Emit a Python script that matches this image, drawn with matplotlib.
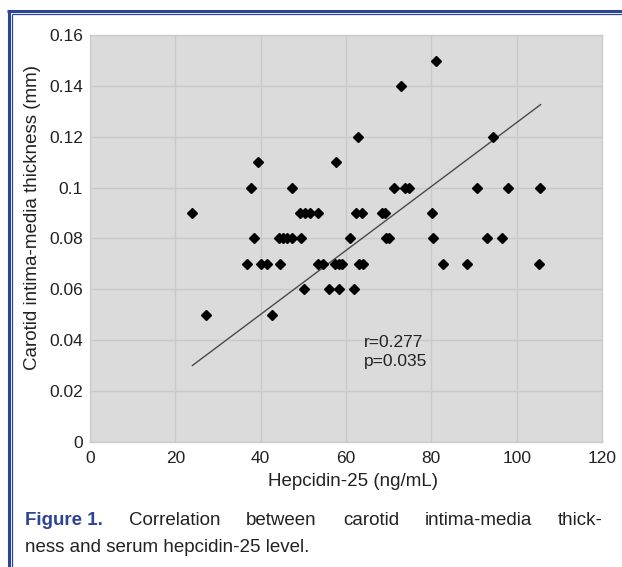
import matplotlib
matplotlib.use("Agg")
import matplotlib.pyplot as plt
from matplotlib.lines import Line2D

# --- Data ---
hepcidin = [
    81.1,
    72.9,
    62.9, 94.4,
    39.4, 57.6,
    37.7, 47.4, 71.3, 73.8, 74.8, 90.8, 98.0, 105.5,
    24.0, 49.2, 50.4, 51.6, 53.4, 62.3, 63.8, 68.4, 69.1, 80.1,
    38.5, 44.3, 45.3, 46.1, 47.4, 49.4, 60.9, 69.4, 70.1, 80.3, 93.0, 96.6,
    36.9, 40.0, 41.4, 44.5, 53.5, 54.5, 57.4, 58.4, 59.0, 63.1, 64.0, 82.8, 88.3, 105.3,
    50.2, 56.1, 58.4, 61.9,
    27.2, 42.6,
]
imt = [
    0.15,
    0.14,
    0.12, 0.12,
    0.11, 0.11,
    0.10, 0.10, 0.10, 0.10, 0.10, 0.10, 0.10, 0.10,
    0.09, 0.09, 0.09, 0.09, 0.09, 0.09, 0.09, 0.09, 0.09, 0.09,
    0.08, 0.08, 0.08, 0.08, 0.08, 0.08, 0.08, 0.08, 0.08, 0.08, 0.08, 0.08,
    0.07, 0.07, 0.07, 0.07, 0.07, 0.07, 0.07, 0.07, 0.07, 0.07, 0.07, 0.07, 0.07, 0.07,
    0.06, 0.06, 0.06, 0.06,
    0.05, 0.05,
]

# trend line as drawn in the figure
fit_x = [24.0, 105.6]
fit_y = [0.030, 0.1327]

x_ticks = [0, 20, 40, 60, 80, 100, 120]
y_ticks = [0, 0.02, 0.04, 0.06, 0.08, 0.10, 0.12, 0.14, 0.16]
y_tick_labels = ["0", "0.02", "0.04", "0.06", "0.08", "0.1", "0.12", "0.14", "0.16"]

stats_text = "r=0.277\np=0.035"
x_label = "Hepcidin-25 (ng/mL)"
y_label = "Carotid intima-media thickness (mm)"
caption_line1 = ["Figure 1.", "Correlation", "between", "carotid", "intima-media", "thick-"]
caption_line2 = "ness and serum hepcidin-25 level."

# --- Style ---
W, H = 622, 567
BLUE = "#2c4596"
plt.rcParams["font.family"] = ["Liberation Sans", "DejaVu Sans"]

fig = plt.figure(figsize=(W / 100, H / 100), dpi=100)
fig.patch.set_facecolor("white")

ax = fig.add_axes([90 / W, 1 - 441.7 / H, 512 / W, 406.4 / H])
ax.set_facecolor("#dbdbdb")
ax.set_xlim(0, 120)
ax.set_ylim(0, 0.16)
ax.set_xticks(x_ticks)
ax.set_yticks(y_ticks)
ax.set_yticklabels(y_tick_labels)
ax.tick_params(length=0, labelsize=12.5, colors="#222222")
ax.tick_params(axis="x", pad=7)
ax.tick_params(axis="y", pad=5)
ax.grid(True, color="#c9c9c9", linewidth=1.0)
ax.set_axisbelow(True)
for s in ax.spines.values():
    s.set_color("#cccccc")
    s.set_linewidth(1.0)

ax.plot(fit_x, fit_y, color="#4a4a4a", linewidth=1.0, zorder=2)
ax.plot(hepcidin, imt, linestyle="none", marker="D", markersize=5.2,
        color="black", zorder=3)

ax.text(64.3, 0.0352, stats_text, fontsize=12.5, color="#222222",
        ha="left", va="center", linespacing=1.3)

fig.text(353 / W, 1 - 481 / H, x_label, fontsize=13.5, color="#222222",
         ha="center", va="center")
fig.text(33 / W, 1 - 218 / H, y_label, fontsize=13.5, color="#222222",
         ha="center", va="center", rotation=90)

# --- Caption (first line justified like the journal layout) ---
renderer = fig.canvas.get_renderer()
texts = []
for i, w in enumerate(caption_line1):
    if i == 0:
        t = fig.text(0, 1 - 525 / H, w, fontsize=13.5, color=BLUE,
                     fontweight="bold", va="baseline")
    else:
        t = fig.text(0, 1 - 525 / H, w, fontsize=13.5, color="#222222",
                     va="baseline")
    texts.append(t)
widths = [t.get_window_extent(renderer).width for t in texts]
x0, x1 = 25, 603
gap = (x1 - x0 - sum(widths)) / (len(texts) - 1)
x = x0
for t, w in zip(texts, widths):
    t.set_x(x / W)
    x += w + gap
fig.text(25 / W, 1 - 552 / H, caption_line2, fontsize=13.5, color="#222222",
         va="baseline")

# --- Blue double frame (top and left) ---
def px_line(xs, ys, lw):
    fig.add_artist(Line2D([v / W for v in xs], [1 - v / H for v in ys],
                          transform=fig.transFigure, color=BLUE,
                          linewidth=lw, solid_capstyle="butt"))

px_line([7.3, W], [11.2, 11.2], 2.2)
px_line([8.7, 8.7], [9.8, H], 2.2)
px_line([12.0, W], [14.3, 14.3], 0.9)
px_line([12.0, 12.0], [14.3, H], 0.9)

fig.savefig("out.png", dpi=100)
